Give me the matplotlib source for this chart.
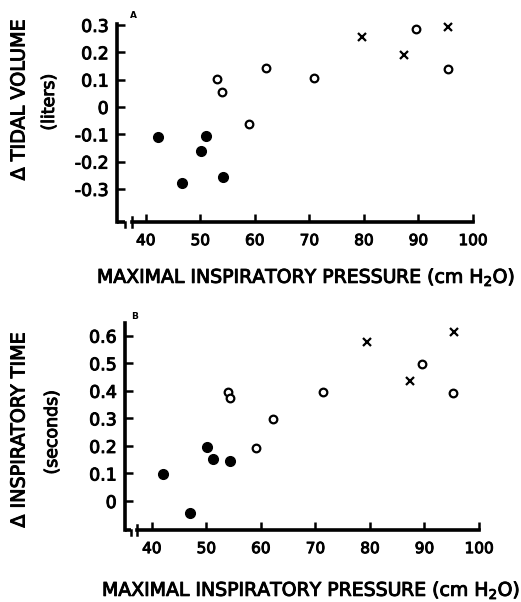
import matplotlib
matplotlib.use("Agg")
import matplotlib.pyplot as plt
import matplotlib.patheffects as pe

plt.rcParams['font.family'] = ['DejaVu Sans']
# thicken the normal weight a bit, the original lettering is between normal and bold
heavy = [pe.withStroke(linewidth=0.7, foreground='k')]

# panel A: change in tidal volume (liters)
a_filled_x = [42.2, 46.7, 50.1, 51.0, 54.2]
a_filled_y = [-0.11, -0.28, -0.16, -0.108, -0.255]
a_open_x = [53.1, 54.0, 58.9, 62.1, 70.8, 89.5, 95.4]
a_open_y = [0.101, 0.056, -0.061, 0.144, 0.107, 0.286, 0.138]
a_cross_x = [79.6, 87.3, 95.5]
a_cross_y = [0.257, 0.19, 0.294]

# panel B: change in inspiratory time (seconds)
b_filled_x = [42.1, 47.1, 50.2, 51.3, 54.4]
b_filled_y = [0.097, -0.045, 0.197, 0.152, 0.145]
b_open_x = [54.0, 54.4, 59.2, 62.3, 71.4, 89.5, 95.3]
b_open_y = [0.397, 0.373, 0.191, 0.299, 0.395, 0.496, 0.391]
b_cross_x = [79.4, 87.4, 95.4]
b_cross_y = [0.578, 0.436, 0.615]

x_ticks = [40, 50, 60, 70, 80, 90, 100]
a_yticks = [0.3, 0.2, 0.1, 0, -0.1, -0.2, -0.3]
a_ylabels = ['0.3', '0.2', '0.1', '0', '-0.1', '-0.2', '-0.3']
b_yticks = [0.6, 0.5, 0.4, 0.3, 0.2, 0.1, 0]
b_ylabels = ['0.6', '0.5', '0.4', '0.3', '0.2', '0.1', '0']

W, H = 521, 602
fig = plt.figure(figsize=(W / 100, H / 100), dpi=100)


def make_panel(box, xlim, ylim, ytop, stub_end, brk):
    l, t, r, b = box
    ax = fig.add_axes([l / W, 1 - b / H, (r - l) / W, (b - t) / H])
    ax.set_xlim(*xlim)
    ax.set_ylim(*ylim)
    for s in ['top', 'right']:
        ax.spines[s].set_visible(False)
    ax.spines['left'].set_linewidth(2.6)
    ax.spines['bottom'].set_linewidth(2.6)
    ax.spines['left'].set_bounds(ylim[0], ytop)
    ax.spines['bottom'].set_bounds(brk, 100)
    ax.tick_params(direction='in', length=6, width=1.8)
    ax.tick_params(axis='y', labelsize=12.5, pad=6)
    ax.tick_params(axis='x', labelsize=11, pad=8)
    # broken axis stub and break marks
    h = (ylim[1] - ylim[0]) * 0.025
    ax.plot([xlim[0], stub_end], [ylim[0], ylim[0]], color='k', lw=2.6, clip_on=False,
            solid_capstyle='butt')
    ax.plot([stub_end, stub_end], [ylim[0] - h, ylim[0]], color='k', lw=1.8, clip_on=False)
    ax.plot([brk, brk], [ylim[0] - h, ylim[0] + h], color='k', lw=1.8, clip_on=False)
    return ax


def draw_points(ax, fx, fy, ox, oy, cx, cy):
    ax.plot(fx, fy, 'o', color='k', ms=7, clip_on=False)
    ax.plot(ox, oy, 'o', mfc='white', mec='k', ms=5.5, mew=1.6, clip_on=False)
    ax.plot(cx, cy, 'x', color='k', ms=6, mew=1.6, clip_on=False)


def finish_ticks(ax):
    for t in ax.get_xticklabels() + ax.get_yticklabels():
        t.set_path_effects(heavy)


# panel A
axA = make_panel((117, 20, 480, 222), (34.74, 101.3), (-0.421, 0.318), 0.305, 36.2, 37.4)
draw_points(axA, a_filled_x, a_filled_y, a_open_x, a_open_y, a_cross_x, a_cross_y)
axA.set_xticks(x_ticks)
axA.set_yticks(a_yticks)
axA.set_yticklabels(a_ylabels)
finish_ticks(axA)
fig.text(133 / W, 1 - 15 / H, 'A', fontsize=6.5, fontweight='bold', ha='center', va='center')
fig.text(19 / W, 1 - 100 / H, '\u0394 TIDAL VOLUME', rotation=90, fontsize=13.8,
         ha='center', va='center', path_effects=heavy)
fig.text(49 / W, 1 - 102 / H, '(liters)', rotation=90, fontsize=12.5, ha='center',
         va='center', path_effects=heavy)
fig.text(306 / W, 1 - 277 / H, 'MAXIMAL INSPIRATORY PRESSURE (cm H$_2$O)', fontsize=13.6,
         ha='center', va='center', path_effects=heavy)

# panel B
axB = make_panel((125, 315, 485, 530), (35.1, 101.1), (-0.105, 0.675), 0.647, 36.2, 37.25)
draw_points(axB, b_filled_x, b_filled_y, b_open_x, b_open_y, b_cross_x, b_cross_y)
axB.set_xticks(x_ticks)
axB.set_yticks(b_yticks)
axB.set_yticklabels(b_ylabels)
finish_ticks(axB)
fig.text(135 / W, 1 - 317 / H, 'B', fontsize=6.5, fontweight='bold', ha='center', va='center')
fig.text(19 / W, 1 - 430 / H, '\u0394 INSPIRATORY TIME', rotation=90, fontsize=13.8,
         ha='center', va='center', path_effects=heavy)
fig.text(52 / W, 1 - 432 / H, '(seconds)', rotation=90, fontsize=12.5, ha='center',
         va='center', path_effects=heavy)
fig.text(311 / W, 1 - 590 / H, 'MAXIMAL INSPIRATORY PRESSURE (cm H$_2$O)', fontsize=13.6,
         ha='center', va='center', path_effects=heavy)

fig.savefig('out.png', dpi=100)
